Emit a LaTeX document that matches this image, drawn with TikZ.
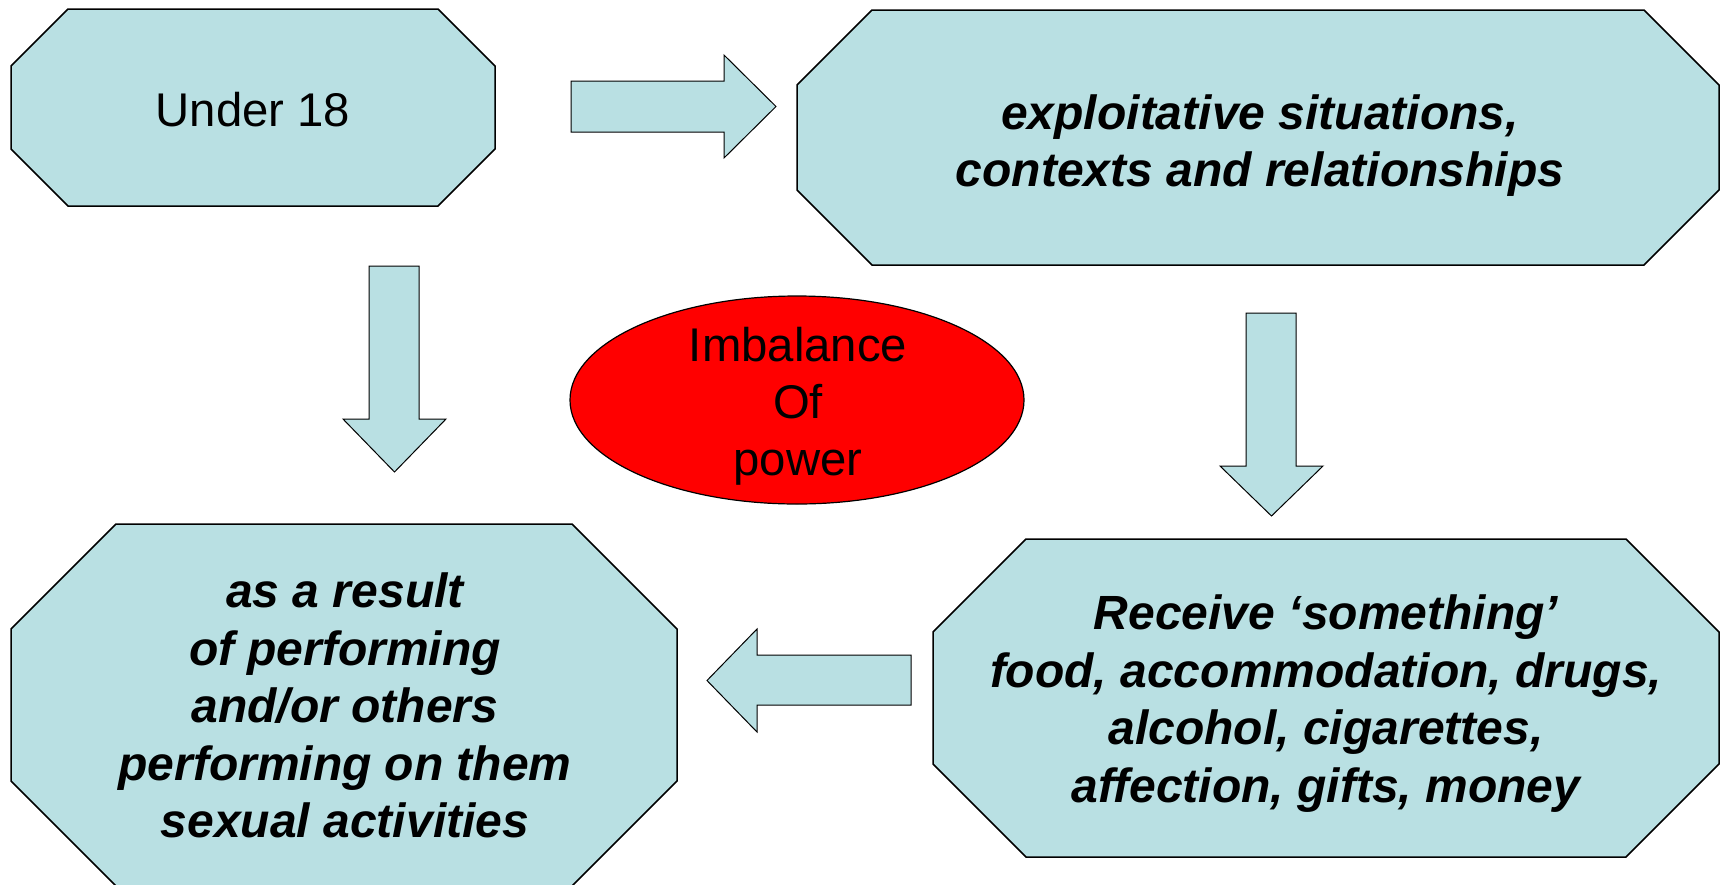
\documentclass[tikz,border=0pt]{standalone}
\usepackage{fontspec}
\setmainfont{Liberation Sans}
\usetikzlibrary{shapes.geometric}
\definecolor{boxblue}{RGB}{185,224,227}
\definecolor{ovalred}{RGB}{255,0,0}
\tikzset{
  octfill/.style={fill=boxblue, draw=black, line width=1.5pt, line join=miter},
  blockarrow/.style={fill=boxblue, draw=black, line width=1pt, line join=miter},
  bolditext/.style={font=\fontsize{48}{57.5}\selectfont\bfseries\itshape, align=center, inner sep=0pt},
  plaintext/.style={font=\fontsize{47.3}{57}\selectfont, align=center, inner sep=0pt},
  oval/.style={ellipse, fill=ovalred, draw=black, line width=1.2pt, inner sep=0pt},
}
\newcommand\octbox[5]{%
  \draw[octfill] (#1+#5,#2) -- (#3-#5,#2) -- (#3,#2+#5) -- (#3,#4-#5) -- (#3-#5,#4)
    -- (#1+#5,#4) -- (#1,#4-#5) -- (#1,#2+#5) -- cycle;}
\begin{document}
\begin{tikzpicture}[x=1pt,y=-1pt]
\useasboundingbox (0,0) rectangle (1721,884);
\clip (0,0) rectangle (1721,884);
% boxes
\octbox{11}{9}{495}{206}{57}
\octbox{797}{10}{1719}{265}{75}
\octbox{11}{524}{677}{886}{105}
\octbox{933}{539}{1719}{857}{93}
\node[plaintext] (under) at (253,110) {Under 18};
\node[bolditext] (exploit) at (1260,145.5) {exploitative situations,\\contexts and relationships};
\node[bolditext] (result) at (345,705.5) {as a result\\of performing\\and/or others\\performing on them\\sexual activities};
\node[bolditext] (receive) at (1326,703.5) {Receive ‘something’\\food, accommodation, drugs,\\alcohol, cigarettes,\\affection, gifts, money};
% oval
\node[oval, minimum width=454pt, minimum height=208pt] (power) at (797,400) {};
\node[plaintext] (powertext) at (798,406) {Imbalance\\Of\\power};
% block arrows
\draw[blockarrow] (571,81) -- (724,81) -- (724,55) -- (776,106.5) -- (724,158) -- (724,132) -- (571,132) -- cycle;
\draw[blockarrow] (369,266) -- (419,266) -- (419,419) -- (446,419) -- (394.5,472) -- (343,419) -- (369,419) -- cycle;
\draw[blockarrow] (1246,313) -- (1296,313) -- (1296,466) -- (1323,466) -- (1271.5,516) -- (1220,466) -- (1246,466) -- cycle;
\draw[blockarrow] (911,655) -- (911,705) -- (757,705) -- (757,732) -- (707,680.5) -- (757,629) -- (757,655) -- cycle;
\end{tikzpicture}
\end{document}
